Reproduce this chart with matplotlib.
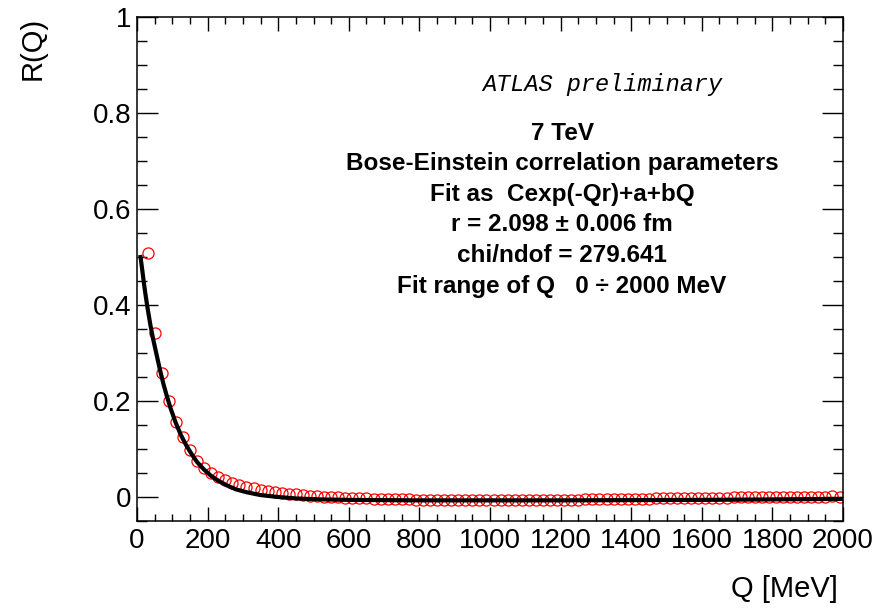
import numpy as np
import matplotlib
matplotlib.use("Agg")
import matplotlib.pyplot as plt
from matplotlib.ticker import MultipleLocator

plt.rcParams['font.family'] = ['Liberation Sans', 'DejaVu Sans']

# measured R(Q) points (bin centres, MeV)
q_data = [30, 50, 70, 90, 110, 130, 150, 170, 190, 210, 230, 250, 270, 290, 310,
          330, 350, 370, 390, 410, 430, 450, 470, 490, 510, 530, 550, 570, 590, 610,
          630, 650, 670, 690, 710, 730, 750, 770, 790, 810, 830, 850, 870, 890, 910,
          930, 950, 970, 990, 1010, 1030, 1050, 1070, 1090, 1110, 1130, 1150, 1170, 1190, 1210,
          1230, 1250, 1270, 1290, 1310, 1330, 1350, 1370, 1390, 1410, 1430, 1450, 1470, 1490, 1510,
          1530, 1550, 1570, 1590, 1610, 1630, 1650, 1670, 1690, 1710, 1730, 1750, 1770, 1790, 1810,
          1830, 1850, 1870, 1890, 1910, 1930, 1950, 1970, 1990]
r_data = [0.508, 0.342, 0.258, 0.199, 0.157, 0.124, 0.098, 0.074, 0.061, 0.051, 0.042, 0.035, 0.030, 0.025, 0.021,
          0.018, 0.015, 0.013, 0.011, 0.009, 0.007, 0.006, 0.004, 0.003, 0.002, 0.001, 0.000, -0.001, -0.002, -0.002,
          -0.003, -0.003, -0.004, -0.004, -0.004, -0.005, -0.005, -0.005, -0.006, -0.006, -0.006, -0.006, -0.006, -0.007, -0.007,
          -0.007, -0.007, -0.007, -0.007, -0.007, -0.007, -0.007, -0.007, -0.007, -0.007, -0.007, -0.007, -0.006, -0.006, -0.006,
          -0.006, -0.006, -0.005, -0.005, -0.005, -0.005, -0.005, -0.004, -0.004, -0.004, -0.004, -0.004, -0.003, -0.003, -0.003,
          -0.003, -0.003, -0.002, -0.002, -0.002, -0.002, -0.002, -0.002, -0.001, -0.001, -0.001, -0.001, -0.001, 0.000, 0.000,
          0.000, 0.000, 0.001, 0.001, 0.001, 0.001, 0.001, 0.002, 0.001]

# fitted curve
q_fit = [10, 15, 20, 25, 30, 38, 46, 55, 65, 75, 85, 95, 110, 125, 140, 155, 170, 190, 210,
         230, 255, 280, 310, 350, 400, 450, 520, 600, 800, 1200, 1600, 2000]
r_fit = [0.500, 0.472, 0.443, 0.417, 0.393, 0.358, 0.328, 0.298, 0.265, 0.235, 0.209, 0.185, 0.154,
         0.128, 0.107, 0.089, 0.073, 0.057, 0.044, 0.034, 0.024, 0.016, 0.010, 0.004, 0.000, -0.003,
         -0.005, -0.006, -0.007, -0.007, -0.006, -0.004]

info_lines = ["7 TeV",
              "Bose-Einstein correlation parameters",
              "Fit as  Cexp(-Qr)+a+bQ",
              "r = 2.098 \u00b1 0.006 fm",
              "chi/ndof = 279.641",
              "Fit range of Q   0 \u00f7 2000 MeV"]

fig = plt.figure(figsize=(8.8, 6.09), dpi=100)
ax = fig.add_axes([0.1557, 0.1445, 0.8023, 0.8275])

ax.plot(q_data, r_data, 'o', mfc='none', mec='red', ms=8, mew=0.9, zorder=2)
ax.plot(q_fit, r_fit, '-', color='black', lw=3, zorder=3)

ax.set_xlim(0, 2000)
ax.set_ylim(-0.05, 1.0)
ax.xaxis.set_major_locator(MultipleLocator(200))
ax.xaxis.set_minor_locator(MultipleLocator(50))
ax.yaxis.set_minor_locator(MultipleLocator(0.05))
ax.set_yticks([0, 0.2, 0.4, 0.6, 0.8, 1.0])
ax.set_yticklabels(['0', '0.2', '0.4', '0.6', '0.8', '1'])

ax.tick_params(axis='both', which='both', direction='in', top=True, right=True,
               labelsize=20, width=1)
ax.tick_params(axis='x', which='major', length=10, pad=5)
ax.tick_params(axis='x', which='minor', length=5)
ax.tick_params(axis='y', which='major', length=15, pad=4)
ax.tick_params(axis='y', which='minor', length=7.5)
for s in ax.spines.values():
    s.set_linewidth(1.1)

fig.text(33 / 880, 1 - 17 / 609, "R(Q)", rotation=90, ha='center', va='top', fontsize=21)
fig.text(838 / 880, 1 - 597 / 609, "Q [MeV]", ha='right', va='baseline', fontsize=21)

fig.text(602 / 880, 1 - 85 / 609, "ATLAS preliminary", ha='center', va='center',
         fontsize=17, family='Liberation Mono', style='italic')
y0 = 133
for i, line in enumerate(info_lines):
    fig.text(562 / 880, 1 - (y0 + i * 30.6) / 609, line, ha='center', va='center',
             fontsize=17.5, fontweight='bold')

fig.savefig("out.png", dpi=100)
